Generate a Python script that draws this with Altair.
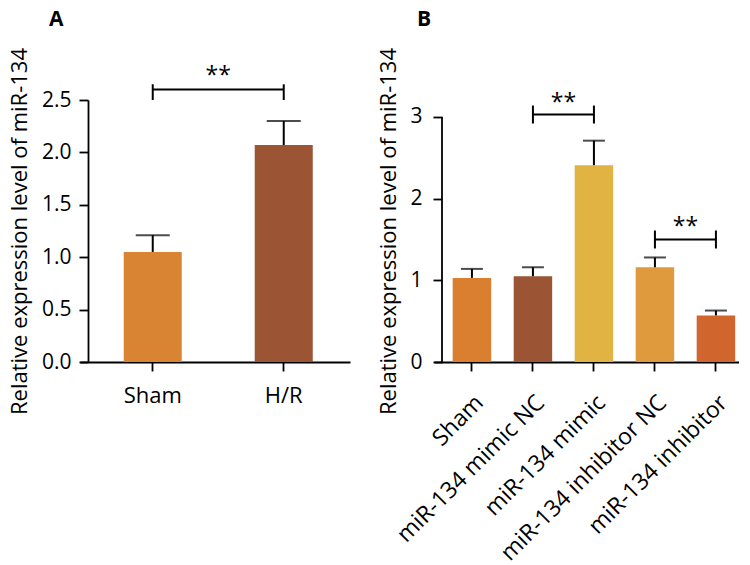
import altair as alt
import pandas as pd

FONT = "Open Sans"

# Panel A
catsA = ["Sham", "H/R"]
meansA = [1.05, 2.07]
sdA = [0.16, 0.23]
colorsA = ["#D98432", "#9B5535"]
brA_c1 = ["Sham"]
brA_c2 = ["H/R"]
brA_y = [2.6]
brA_lo = [2.5]
brA_hi = [2.65]
brA_txt = [2.73]

# Panel B
catsB = ["Sham", "miR-134 mimic NC", "miR-134 mimic", "miR-134 inhibitor NC", "miR-134 inhibitor"]
meansB = [1.03, 1.05, 2.41, 1.16, 0.57]
sdB = [0.11, 0.11, 0.30, 0.12, 0.06]
colorsB = ["#DA7E2F", "#9B5535", "#E1B342", "#DE9A3D", "#D0652E"]
brB_c1 = ["miR-134 mimic NC", "miR-134 inhibitor NC"]
brB_c2 = ["miR-134 mimic", "miR-134 inhibitor"]
brB_y = [3.03, 1.5]
brB_lo = [2.92, 1.39]
brB_hi = [3.14, 1.61]
brB_txt = [3.17, 1.65]

YTITLE = "Relative expression level of miR-134"


def panel(cats, means, sds, colors, c1, c2, by, blo, bhi, btxt, *, width, height,
          ydomain, yticks, yfmt, pin, pout, palign, capsize, txtdx, xangle, letter, letterdx,
          ydomainline, ylabpad, ytitlepad):
    df = pd.DataFrame({"cat": cats, "mean": means, "sd": sds, "color": colors})
    df["upper"] = df["mean"] + df["sd"]
    br = pd.DataFrame({"c1": c1, "c2": c2, "y": by, "lo": blo, "hi": bhi, "t": btxt})
    ends = pd.concat([
        br[["c1", "lo", "hi"]].rename(columns={"c1": "c"}),
        br[["c2", "lo", "hi"]].rename(columns={"c2": "c"}),
    ])

    xscale = alt.Scale(domain=cats, paddingInner=pin, paddingOuter=pout, align=palign)
    if xangle == 0:
        xaxis = alt.Axis(title=None, labelAngle=0, labelPadding=14, labelFontSize=22,
                         labelLimit=0)
    else:
        xaxis = alt.Axis(title=None, labelAngle=xangle, labelAlign="right",
                         labelBaseline="top", labelPadding=20, labelFontSize=23,
                         labelLimit=0)
    yscale = alt.Scale(domain=ydomain, nice=False, zero=True)
    yaxis = alt.Axis(title=YTITLE, values=yticks, format=yfmt, offset=-8,
                     domain=ydomainline, titlePadding=ytitlepad, labelPadding=ylabpad)

    bars = alt.Chart(df).mark_bar().encode(
        x=alt.X("cat:N", scale=xscale, axis=xaxis),
        y=alt.Y("mean:Q", scale=yscale, axis=yaxis),
        color=alt.Color("color:N", scale=None),
    )
    err = alt.Chart(df).mark_rule(color="black", strokeWidth=2).encode(
        x=alt.X("cat:N", scale=xscale), y=alt.Y("mean:Q", scale=yscale), y2="upper:Q"
    )
    cap = alt.Chart(df).mark_tick(color="black", thickness=2, size=capsize).encode(
        x=alt.X("cat:N", scale=xscale), y=alt.Y("upper:Q", scale=yscale)
    )
    hline = alt.Chart(br).mark_rule(color="black", strokeWidth=2).encode(
        x=alt.X("c1:N", scale=xscale), x2="c2:N", y=alt.Y("y:Q", scale=yscale)
    )
    vline = alt.Chart(ends).mark_rule(color="black", strokeWidth=2).encode(
        x=alt.X("c:N", scale=xscale), y=alt.Y("lo:Q", scale=yscale), y2="hi:Q"
    )
    stars = alt.Chart(br).mark_text(text="**", fontSize=23, font=FONT, dx=txtdx,
                                    baseline="middle", color="black").encode(
        x=alt.X("c1:N", scale=xscale), y=alt.Y("t:Q", scale=yscale)
    )
    layers = [bars, err, cap, hline, vline, stars]
    if not ydomainline:
        axisline = alt.Chart(pd.DataFrame({"a": [0], "b": [yticks[-1]]})).mark_rule(
            color="black", strokeWidth=1.8
        ).encode(x=alt.value(8), y=alt.Y("a:Q", scale=yscale), y2="b:Q")
        layers.append(axisline)
    return alt.layer(*layers).properties(
        width=width, height=height,
        title=alt.TitleParams(letter, anchor="start", frame="group", fontSize=21,
                              fontWeight="bold", font=FONT, dx=letterdx, offset=18),
    )


A = panel(catsA, meansA, sdA, colorsA, brA_c1, brA_c2, brA_y, brA_lo, brA_hi, brA_txt,
          width=270, height=262, ydomain=[0, 2.5], yticks=[0, 0.5, 1.0, 1.5, 2.0, 2.5],
          yfmt=".1f", pin=0.557, pout=0.309, palign=0.54, capsize=34, txtdx=65.5,
          xangle=0, letter="A", letterdx=-31, ydomainline=True, ylabpad=8, ytitlepad=10)
B = panel(catsB, meansB, sdB, colorsB, brB_c1, brB_c2, brB_y, brB_lo, brB_hi, brB_txt,
          width=305, height=262, ydomain=[0, 3.208], yticks=[0, 1, 2, 3],
          yfmt="d", pin=0.369, pout=0.1845, palign=0.83, capsize=22, txtdx=30.5,
          xangle=-45, letter="B", letterdx=-17, ydomainline=False, ylabpad=11, ytitlepad=9)

chart = alt.hconcat(A, B, spacing=27).properties(padding=0).configure_view(
    stroke=None
).configure_axis(
    labelFont=FONT, titleFont=FONT, labelFontSize=21, titleFontSize=22,
    titleFontWeight="normal", labelColor="black", titleColor="black",
    domainColor="black", tickColor="black", domainWidth=1.8, tickWidth=1.8,
    tickSize=9, grid=False,
)

chart.save("out.html", embed_options={"renderer": "svg", "actions": False})
